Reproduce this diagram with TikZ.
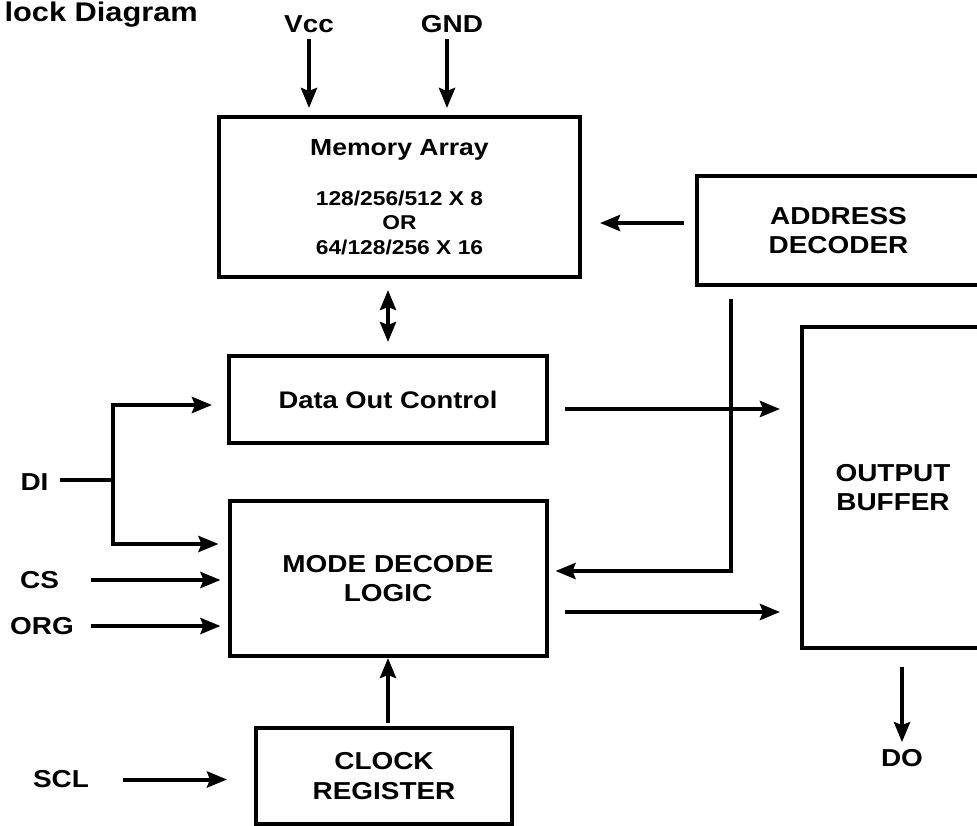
\documentclass[tikz,border=0pt]{standalone}
\usepackage{fontspec}
\setmainfont{Liberation Sans}[FakeStretch=1.14]
\usetikzlibrary{positioning, arrows.meta}

\begin{document}
\begin{tikzpicture}
			[x=1pt, y=-1pt, font=\bfseries\fontsize{24.5}{29.5}\selectfont,
			block/.style={draw, line width=4pt, align=center, inner sep=0pt},
			pin/.style={inner sep=0pt},
			wire/.style={line width=4pt},
			arr/.style={wire, -{Stealth[length=20pt, width=16pt, inset=3pt]}},
			dblarr/.style={wire, {Stealth[length=20pt, width=16pt, inset=3pt]}-{Stealth[length=20pt, width=16pt, inset=3pt]}}]
		\clip (0,0) rectangle (977,826);
		% nodes %
		\node[anchor=base west, font=\bfseries\fontsize{27}{32}\selectfont] (title) at (1,22) {lock Diagram};
		\node[block, minimum width=361pt, minimum height=160pt, font=\bfseries\fontsize{20}{24.5}\selectfont] (mem) at (399.5,197)
			{{\fontsize{23.3}{28}\selectfont Memory Array}\\[25pt]128/256/512 X 8\\OR\\64/128/256 X 16};
		\node[block, minimum width=283pt, minimum height=109pt] (addr) at (838.5,230.5) {ADDRESS\\DECODER};
		\node[block, minimum width=318pt, minimum height=87pt, font=\bfseries\fontsize{24}{29}\selectfont] (doc) at (388,399.5) {Data Out Control};
		\node[block, minimum width=317pt, minimum height=155pt, below=54pt of doc] (mode) {MODE DECODE\\LOGIC};
		\node[block, minimum width=256pt, minimum height=96pt] (clk) at (384,776) {CLOCK\\REGISTER};
		\node[block, minimum width=182pt, minimum height=321pt] (out) at (893,487.5) {OUTPUT\\BUFFER};
		\node[pin] (vcc) at (309,24) {Vcc};
		\node[pin] (gnd) at (452,24) {GND};
		\node[pin] (di) at (34.5,482) {DI};
		\node[pin] (cs) at (39.5,580) {CS};
		\node[pin] (org) at (42,626) {ORG};
		\node[pin] (scl) at (61,779.5) {SCL};
		\node[pin] (do) at (902,758) {DO};
		\coordinate (dibr) at (113,480);

		% edges %
		\draw[arr, shorten <=6pt, shorten >=7pt] (vcc.south) -- (vcc.south |- mem.north);
		\draw[arr, shorten <=6pt, shorten >=7pt] ([xshift=-5pt]gnd.south) -- ([xshift=-5pt]gnd.south |- mem.north);
		\draw[arr, shorten <=11pt, shorten >=18pt] ([yshift=7.5pt]addr.west) -- ([yshift=7.5pt]addr.west -| mem.east);
		\draw[dblarr, shorten <=12pt, shorten >=11pt] (doc.north) -- (doc.north |- mem.south);
		\draw[wire, shorten <=11pt] (di.east |- dibr) -- (dibr);
		\draw[arr, shorten >=15pt] (dibr) |- ([yshift=-5.5pt]doc.west);
		\draw[arr, shorten >=9pt] (dibr) |- ([yshift=34.5pt]mode.west);
		\draw[arr, shorten <=32pt, shorten >=7pt] (cs.east) -- (cs.east -| mode.west);
		\draw[arr, shorten <=17pt, shorten >=7pt] (org.east) -- (org.east -| mode.west);
		\draw[arr, shorten <=34pt, shorten >=27pt] (scl.east) -- (scl.east -| clk.west);
		\draw[arr, shorten <=3pt] (mode.south |- clk.north) -- (mode.south);
		\draw[arr, shorten <=16pt, shorten >=20pt] ([yshift=-9.5pt]doc.east) -- ([yshift=-9.5pt]doc.east -| out.west);
		\draw[arr, shorten <=16pt, shorten >=20pt] ([yshift=-33.5pt]mode.east) -- ([yshift=-33.5pt]mode.east -| out.west);
		\draw[arr, shorten <=12pt, shorten >=7pt] ([xshift=-107.5pt]addr.south) |- ([yshift=7.5pt]mode.east);
		\draw[arr, shorten <=17pt, shorten >=7pt] (do.north |- out.south) -- (do.north);
\end{tikzpicture}
\end{document}
